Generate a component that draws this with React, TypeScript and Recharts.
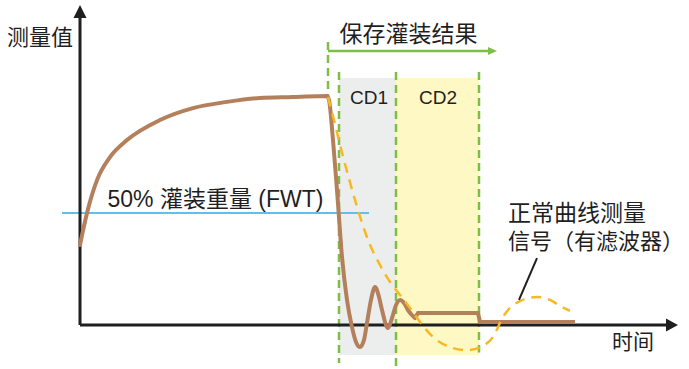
import React from "react";
import {
  ComposedChart,
  Line,
  ReferenceArea,
  ReferenceDot,
  ReferenceLine,
  XAxis,
  YAxis,
} from "recharts";

// time (t) / measured value (m), plateau ~ 100
const rawSignal: [number, number][] = [
  [0, 34.8], [1.4, 48.7], [3.4, 63], [6, 73], [9.4, 80.4], [16, 89.1],
  [22.6, 94.3], [29.4, 97], [36, 98.7], [42.6, 99.1], [49.4, 99.6],
  [49.8, 97.8], [50.6, 80.4], [51.4, 58.7], [52.4, 29.6], [53.4, 10.9],
  [54.4, -0.9], [55.2, -7.4], [56, -9.6], [56.8, -6.5], [57.4, 0.9],
  [58.2, 10.9], [59, 16.5], [59.8, 12.2], [60.4, 6.5], [61.6, -1.3],
  [62.4, 3], [63.2, 8.7], [64, 10.9], [64.8, 9.6], [65.6, 6.5], [67, 3],
];
const settled: [number, number][] = [
  [67, 3], [67.6, 5.2], [79.6, 5.2], [80, 1.3], [99, 1.3],
];
const filtered: [number, number][] = [
  [49.6, 99.1], [50.8, 89.1], [52, 78.3], [53.6, 65.2], [55.6, 50],
  [57.6, 37], [60, 26.1], [62, 18.7], [64, 13], [66, 7.4], [68, 1.3],
  [70.6, -5.2], [74, -9.6], [77.4, -10.9], [80, -9.6], [82.6, -5.2],
  [84.6, 3.5], [86, 7.4], [88, 10.4], [91.4, 12.2], [94, 10.9],
  [96, 8.3], [98, 6.1],
];

const fwt = 48.7;
const saveStart = 49.6;
const cd1 = [51.8, 63.2];
const cd2 = [63.2, 79.8];

const toRows = (pts: [number, number][]) => pts.map(([t, m]) => ({ t, m }));

const BROWN = "#b47f5b";
const YELLOW = "#f6b924";
const GREEN = "#7cbf44";
const BLUE = "#5ec0ec";
const INK = "#1f1f1f";
const FONT = "'Liberation Sans', Arial, 'Noto Sans CJK SC', sans-serif";

const arrow =
  (color: string, width: number, head: number, half: number) => (p: any) => {
    const { x1, y1, x2, y2 } = p;
    const len = Math.hypot(x2 - x1, y2 - y1) || 1;
    const ux = (x2 - x1) / len;
    const uy = (y2 - y1) / len;
    const bx = x2 - ux * head;
    const by = y2 - uy * head;
    const nx = -uy * half;
    const ny = ux * half;
    return (
      <g>
        <line x1={x1} y1={y1} x2={bx + ux} y2={by + uy} stroke={color} strokeWidth={width} />
        <polygon points={`${x2},${y2} ${bx + nx},${by + ny} ${bx - nx},${by - ny}`} fill={color} />
      </g>
    );
  };

function Txt({ x, y, text, size = 22, pos = "center" }: any) {
  return (
    <ReferenceDot
      x={x}
      y={y}
      r={0}
      fill="none"
      stroke="none"
      label={{ value: text, position: pos, offset: 0, fontSize: size, fill: INK, fontFamily: FONT }}
    />
  );
}

export default function App() {
  return (
    <div style={{ position: "absolute", left: 0, top: 0, width: 689, height: 369, background: "#fff" }}>
      <ComposedChart width={689} height={369} margin={{ top: 0, right: 0, bottom: 0, left: 0 }}>
        <XAxis type="number" dataKey="t" domain={[-16, 121.8]} allowDataOverflow hide />
        <YAxis type="number" dataKey="m" domain={[-19.13, 141.3]} allowDataOverflow hide />

        <ReferenceArea x1={cd1[0]} x2={cd1[1]} y1={-13} y2={107.4} fill="#eceeee" fillOpacity={1} stroke="none" />
        <ReferenceArea x1={cd2[0]} x2={cd2[1]} y1={-13} y2={107.4} fill="#fdf8c4" fillOpacity={1} stroke="none" />

        <ReferenceLine segment={[{ x: -3.6, y: fwt }, { x: 57.8, y: fwt }]} stroke={BLUE} strokeWidth={2} />

        <ReferenceLine segment={[{ x: saveStart, y: 123 }, { x: saveStart, y: 99.6 }]} stroke={GREEN} strokeWidth={2.5} strokeDasharray="8 5" />
        <ReferenceLine segment={[{ x: cd1[0], y: 110 }, { x: cd1[0], y: -16.5 }]} stroke={GREEN} strokeWidth={2.5} strokeDasharray="8 5" />
        <ReferenceLine segment={[{ x: cd1[1], y: 110 }, { x: cd1[1], y: -17.8 }]} stroke={GREEN} strokeWidth={2.5} strokeDasharray="8 5" />
        <ReferenceLine segment={[{ x: cd2[1], y: 110 }, { x: cd2[1], y: -12 }]} stroke={GREEN} strokeWidth={2.5} strokeDasharray="8 5" />
        <ReferenceLine segment={[{ x: saveStart, y: 119.1 }, { x: 83.4, y: 119.1 }]} shape={arrow(GREEN, 2.5, 9, 4)} />

        <ReferenceLine segment={[{ x: 0, y: 0 }, { x: 119.6, y: 0 }]} shape={arrow(INK, 3, 12, 6.5)} />
        <ReferenceLine segment={[{ x: 0, y: 0 }, { x: 0, y: 139.1 }]} shape={arrow(INK, 3, 13, 6.5)} />

        <Line data={toRows(rawSignal)} dataKey="m" type="monotone" stroke={BROWN} strokeWidth={4} strokeLinecap="round" dot={false} activeDot={false} isAnimationActive={false} />
        <Line data={toRows(settled)} dataKey="m" type="linear" stroke={BROWN} strokeWidth={4} dot={false} activeDot={false} isAnimationActive={false} />
        <Line data={toRows(filtered)} dataKey="m" type="monotone" stroke={YELLOW} strokeWidth={2.5} strokeDasharray="10 7" dot={false} activeDot={false} isAnimationActive={false} />

        <ReferenceLine segment={[{ x: 91.4, y: 29.1 }, { x: 87.8, y: 10.9 }]} stroke={INK} strokeWidth={2} />

        {Txt({ x: -8, y: 125.2, text: "测量值" })}
        {Txt({ x: 65.7, y: 126.5, text: "保存灌装结果", size: 23 })}
        {Txt({ x: 27.1, y: 54.8, text: "50% 灌装重量 (FWT)", size: 23 })}
        {Txt({ x: 57.8, y: 99.1, text: "CD1", size: 19 })}
        {Txt({ x: 71.6, y: 99.1, text: "CD2", size: 19 })}
        {Txt({ x: 85.6, y: 48.7, text: "正常曲线测量", size: 23, pos: "right" })}
        {Txt({ x: 85.6, y: 36.5, text: "信号（有滤波器）", size: 22, pos: "right" })}
        {Txt({ x: 110.6, y: -7.4, text: "时间", size: 21 })}
      </ComposedChart>
    </div>
  );
}
